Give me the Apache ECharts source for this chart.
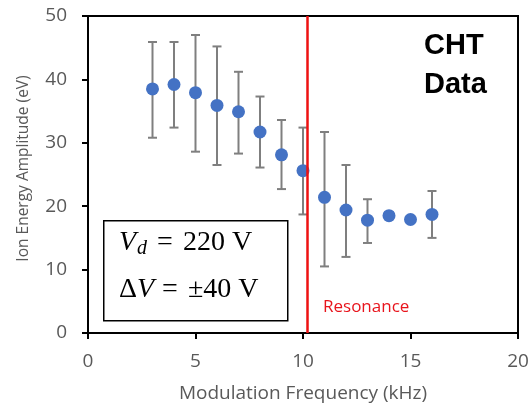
<!DOCTYPE html>
<html>
<head>
<meta charset="utf-8">
<script src="https://cdn.jsdelivr.net/npm/echarts@6/dist/echarts.min.js"></script>
<style>html,body{margin:0;padding:0;background:#fff}#c{width:528px;height:404px}</style>
</head>
<body>
<div id="c"></div>
<script>
const freq = [3, 4, 5, 6, 7, 8, 9, 10, 11, 12, 13, 14, 15, 16];
const amplitude = [38.5, 39.2, 37.9, 35.9, 34.9, 31.7, 28.1, 25.6, 21.4, 19.4, 17.8, 18.5, 17.9, 18.7];
const errLow = [30.8, 32.4, 28.6, 26.5, 28.3, 26.1, 22.7, 18.7, 10.5, 12.0, 14.2, 18.0, 17.9, 15.0];
const errHigh = [45.9, 45.9, 47.0, 45.2, 41.2, 37.3, 33.6, 32.4, 31.7, 26.5, 21.1, 19.0, 17.9, 22.4];
const resonance = 10.2;
const xTicks = [0, 5, 10, 15, 20];
const yTicks = [0, 10, 20, 30, 40, 50];

const chart = echarts.init(document.getElementById('c'), null, {renderer: 'canvas'});
const gray = '#595959';
const font = 'Open Sans';
const serif = 'Liberation Serif';

chart.setOption({
  animation: false,
  grid: {left: 88, right: 10, top: 16, bottom: 71, show: true, borderColor: '#000', borderWidth: 2, backgroundColor: 'transparent', containLabel: false, outerBoundsMode: 'none'},
  xAxis: {
    type: 'value', min: xTicks[0], max: xTicks[xTicks.length - 1], interval: 5,
    name: 'Modulation Frequency (kHz)', nameLocation: 'middle', nameGap: 51,
    nameTextStyle: {color: gray, fontFamily: font, fontSize: 19},
    axisLine: {lineStyle: {color: '#000', width: 2}},
    axisTick: {show: true, length: 6, lineStyle: {color: '#000', width: 2}},
    axisLabel: {color: gray, fontFamily: font, fontSize: 19, margin: 19},
    splitLine: {show: false}
  },
  yAxis: {
    type: 'value', min: yTicks[0], max: yTicks[yTicks.length - 1], interval: 10,
    name: 'Ion Energy Amplitude (eV)', nameLocation: 'middle', nameGap: 56,
    nameTextStyle: {color: gray, fontFamily: font, fontSize: 15.5, padding: [0, 0, 0, 12]},
    axisLine: {show: true, lineStyle: {color: '#000', width: 2}},
    axisTick: {show: true, length: 6, lineStyle: {color: '#000', width: 2}},
    axisLabel: {color: gray, fontFamily: font, fontSize: 19, margin: 21},
    splitLine: {show: false}
  },
  series: [
    {
      type: 'custom',
      data: freq.map((f, i) => [f, errLow[i], errHigh[i]]),
      renderItem: function (params, api) {
        const lo = api.coord([api.value(0), api.value(1)]);
        const hi = api.coord([api.value(0), api.value(2)]);
        const w = 4.5;
        const style = {stroke: '#7f7f7f', lineWidth: 2};
        return {
          type: 'group',
          children: [
            {type: 'line', shape: {x1: lo[0], y1: lo[1], x2: hi[0], y2: hi[1]}, style: style},
            {type: 'line', shape: {x1: lo[0] - w, y1: lo[1], x2: lo[0] + w, y2: lo[1]}, style: style},
            {type: 'line', shape: {x1: hi[0] - w, y1: hi[1], x2: hi[0] + w, y2: hi[1]}, style: style}
          ]
        };
      },
      z: 2
    },
    {
      type: 'scatter',
      data: freq.map((f, i) => [f, amplitude[i]]),
      symbol: 'circle', symbolSize: 13,
      itemStyle: {color: '#4472C4', opacity: 1},
      z: 3,
      markLine: {
        silent: true, symbol: 'none',
        label: {show: false},
        lineStyle: {color: '#ee1111', width: 2.5, type: 'solid'},
        data: [{xAxis: resonance}]
      }
    }
  ],
  graphic: [
    {type: 'rect', left: 103, top: 220, shape: {width: 184, height: 100}, style: {fill: '#fff', stroke: '#000', lineWidth: 1.5}, z: 10},
    {type: 'text', left: 119, top: 229, z: 11, style: {
      text: '{i|V}{s|d}{e|=}{n|220 V}',
      rich: {
        i: {fontFamily: serif, fontStyle: 'italic', fontSize: 28, fill: '#000'},
        s: {fontFamily: serif, fontStyle: 'italic', fontSize: 20, fill: '#000', padding: [11, 2, 0, 1]},
        e: {fontFamily: serif, fontSize: 28, fill: '#000', padding: [0, 10, 0, 8]},
        n: {fontFamily: serif, fontSize: 28, fill: '#000'}
      }
    }},
    {type: 'text', left: 119, top: 276, z: 11, style: {
      text: '{n|Δ}{i|V}{e|=}{n|±40 V}',
      rich: {
        i: {fontFamily: serif, fontStyle: 'italic', fontSize: 28, fill: '#000'},
        e: {fontFamily: serif, fontSize: 28, fill: '#000', padding: [0, 10, 0, 8]},
        n: {fontFamily: serif, fontSize: 28, fill: '#000'}
      }
    }},
    {type: 'text', left: 424, top: 26, z: 11, style: {
      text: 'CHT\nData', fontFamily: 'Liberation Sans', fontWeight: 'bold', fontSize: 29, lineHeight: 39, fill: '#000'
    }},
    {type: 'text', left: 323, top: 299, z: 11, style: {
      text: 'Resonance', fontFamily: font, fontSize: 17, fill: '#e8141c'
    }}
  ]
});
</script>
</body>
</html>
